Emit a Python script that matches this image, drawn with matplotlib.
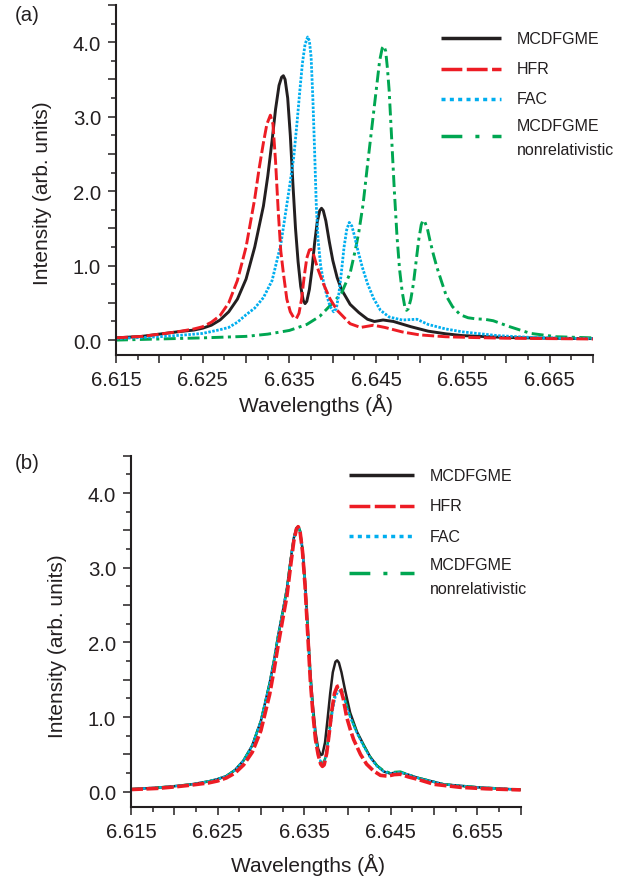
import numpy as np
import matplotlib
matplotlib.use("Agg")
import matplotlib.pyplot as plt
from matplotlib.lines import Line2D
from matplotlib.ticker import MultipleLocator, FuncFormatter

plt.rcParams['font.family'] = ['Liberation Sans', 'DejaVu Sans']
plt.rcParams['lines.scale_dashes'] = False

# ---- panel (a): spectra from each method (wavelength in A, intensity in arb. units)
a_mcdf_x = [6.615, 6.618, 6.620, 6.622, 6.624, 6.625, 6.626, 6.627, 6.628, 6.629,
            6.630, 6.631, 6.632, 6.6325, 6.6330, 6.6334, 6.6338, 6.6341, 6.6343, 6.6345,
            6.6348, 6.6351, 6.6354, 6.6357, 6.6360, 6.6363, 6.6366, 6.6368, 6.6370, 6.6373,
            6.6376, 6.6379, 6.6382, 6.6385, 6.6387, 6.6389, 6.6392, 6.6396, 6.6400, 6.6405,
            6.6410, 6.642, 6.643, 6.644, 6.6448, 6.6458, 6.647, 6.649, 6.651, 6.653,
            6.655, 6.660, 6.665, 6.670]
a_mcdf_y = [0.03, 0.05, 0.08, 0.11, 0.135, 0.16, 0.20, 0.27, 0.38, 0.55,
            0.82, 1.25, 1.80, 2.20, 2.68, 3.10, 3.42, 3.53, 3.55, 3.50,
            3.25, 2.75, 2.10, 1.50, 1.05, 0.72, 0.53, 0.49, 0.52, 0.68,
            0.95, 1.30, 1.58, 1.74, 1.77, 1.74, 1.60, 1.32, 1.07, 0.84,
            0.68, 0.48, 0.37, 0.28, 0.25, 0.27, 0.25, 0.18, 0.12, 0.085,
            0.06, 0.035, 0.025, 0.02]

a_hfr_x = [6.615, 6.618, 6.620, 6.622, 6.624, 6.625, 6.626, 6.627, 6.628, 6.629,
           6.630, 6.6310, 6.6315, 6.6320, 6.6324, 6.6328, 6.6331, 6.6334, 6.6337, 6.6340,
           6.6343, 6.6347, 6.6351, 6.6355, 6.6358, 6.6361, 6.6364, 6.6367, 6.6370, 6.6373,
           6.6375, 6.6378, 6.6382, 6.6389, 6.6397, 6.6405, 6.642, 6.6432, 6.6447, 6.646,
           6.648, 6.650, 6.653, 6.656, 6.660, 6.665, 6.670]
a_hfr_y = [0.03, 0.05, 0.08, 0.11, 0.15, 0.18, 0.24, 0.33, 0.50, 0.80,
           1.25, 1.90, 2.30, 2.65, 2.90, 3.02, 2.90, 2.40, 1.75, 1.20,
           0.90, 0.55, 0.38, 0.30, 0.29, 0.36, 0.55, 0.85, 1.10, 1.21,
           1.22, 1.14, 0.98, 0.76, 0.55, 0.40, 0.22, 0.17, 0.20, 0.17,
           0.11, 0.07, 0.045, 0.035, 0.025, 0.02, 0.015]

a_fac_x = [6.615, 6.620, 6.623, 6.625, 6.627, 6.628, 6.629, 6.630, 6.631, 6.632,
           6.633, 6.634, 6.6350, 6.6355, 6.6359, 6.6362, 6.6365, 6.6368, 6.6371, 6.6373,
           6.6375, 6.6377, 6.6379, 6.6381, 6.6383, 6.6386, 6.6389, 6.6393, 6.6397, 6.6401,
           6.6404, 6.6407, 6.6410, 6.6413, 6.6416, 6.6419, 6.6422, 6.6425, 6.6429, 6.6434,
           6.6440, 6.6447, 6.6455, 6.6465, 6.648, 6.6497, 6.651, 6.653, 6.655, 6.659,
           6.663, 6.667, 6.670]
a_fac_y = [0.02, 0.045, 0.07, 0.09, 0.14, 0.17, 0.24, 0.34, 0.43, 0.57,
           0.80, 1.28, 2.05, 2.46, 2.95, 3.35, 3.72, 3.97, 4.07, 4.02,
           3.80, 3.25, 2.55, 1.80, 1.35, 1.00, 0.80, 0.60, 0.45, 0.38,
           0.42, 0.62, 0.92, 1.25, 1.48, 1.58, 1.53, 1.40, 1.20, 0.98,
           0.76, 0.56, 0.40, 0.31, 0.27, 0.28, 0.21, 0.15, 0.11, 0.06,
           0.035, 0.025, 0.02]

a_nonrel_x = [6.615, 6.620, 6.625, 6.630, 6.6325, 6.635, 6.637, 6.6385, 6.640, 6.641,
              6.6420, 6.6426, 6.6430, 6.6435, 6.6440, 6.6444, 6.6448, 6.6451, 6.6454, 6.6457,
              6.6459, 6.6461, 6.6463, 6.6465, 6.6468, 6.6471, 6.6474, 6.6477, 6.6480, 6.6483,
              6.6485, 6.6487, 6.6490, 6.6493, 6.6496, 6.6499, 6.6502, 6.6504, 6.6506, 6.6509,
              6.6512, 6.6516, 6.6520, 6.6525, 6.6531, 6.6538, 6.6547, 6.6556, 6.6565, 6.6575,
              6.6585, 6.6604, 6.6628, 6.6658, 6.670]
a_nonrel_y = [0.0, 0.015, 0.03, 0.05, 0.08, 0.13, 0.21, 0.32, 0.50, 0.63,
              0.90, 1.21, 1.45, 1.83, 2.35, 2.75, 3.15, 3.45, 3.75, 3.92,
              3.95, 3.88, 3.65, 3.35, 2.68, 2.00, 1.40, 0.95, 0.65, 0.45,
              0.40, 0.42, 0.55, 0.76, 1.05, 1.34, 1.55, 1.61, 1.59, 1.50,
              1.34, 1.15, 0.98, 0.80, 0.59, 0.45, 0.34, 0.30, 0.285, 0.28,
              0.26, 0.18, 0.09, 0.045, 0.03]

# ---- panel (b)
b_mcdf_x = [6.615, 6.618, 6.620, 6.622, 6.624, 6.625, 6.626, 6.627, 6.628, 6.629,
            6.630, 6.6310, 6.6315, 6.6320, 6.6325, 6.6330, 6.6334, 6.6338, 6.6341, 6.6343,
            6.6345, 6.6348, 6.6351, 6.6354, 6.6357, 6.6360, 6.6363, 6.6366, 6.6369, 6.6371,
            6.6374, 6.6377, 6.6380, 6.6383, 6.6386, 6.6388, 6.6390, 6.6393, 6.6397, 6.6403,
            6.6411, 6.6419, 6.6426, 6.6434, 6.6442, 6.6449, 6.6455, 6.6461, 6.647, 6.648,
            6.6511, 6.655, 6.660]
b_mcdf_y = [0.035, 0.055, 0.075, 0.10, 0.14, 0.17, 0.21, 0.29, 0.42, 0.62,
            0.95, 1.45, 1.75, 2.10, 2.40, 2.72, 3.08, 3.40, 3.53, 3.55,
            3.50, 3.25, 2.80, 2.20, 1.60, 1.15, 0.80, 0.58, 0.49, 0.50,
            0.66, 0.98, 1.32, 1.60, 1.74, 1.76, 1.73, 1.60, 1.37, 1.06,
            0.80, 0.62, 0.47, 0.35, 0.27, 0.245, 0.255, 0.26, 0.23, 0.19,
            0.10, 0.06, 0.027]

b_hfr_x = [6.615, 6.618, 6.620, 6.622, 6.624, 6.625, 6.626, 6.627, 6.628, 6.629,
           6.630, 6.6310, 6.6315, 6.6320, 6.6325, 6.6330, 6.6334, 6.6338, 6.6341, 6.6343,
           6.6345, 6.6348, 6.6351, 6.6354, 6.6357, 6.6360, 6.6363, 6.6366, 6.6369, 6.6371,
           6.6373, 6.6376, 6.6379, 6.6382, 6.6385, 6.6388, 6.6390, 6.6392, 6.6395, 6.6399,
           6.6403, 6.6407, 6.6415, 6.6422, 6.643, 6.6438, 6.6446, 6.6454, 6.6461, 6.647,
           6.648, 6.650, 6.653, 6.656, 6.660]
b_hfr_y = [0.03, 0.045, 0.065, 0.09, 0.12, 0.145, 0.185, 0.25, 0.36, 0.53,
           0.82, 1.30, 1.62, 1.97, 2.30, 2.62, 3.00, 3.36, 3.52, 3.55,
           3.50, 3.22, 2.75, 2.12, 1.50, 1.05, 0.70, 0.50, 0.37, 0.34,
           0.36, 0.52, 0.80, 1.10, 1.32, 1.41, 1.42, 1.38, 1.25, 1.00,
           0.84, 0.70, 0.50, 0.37, 0.28, 0.22, 0.21, 0.23, 0.235, 0.20,
           0.17, 0.10, 0.06, 0.04, 0.025]

b_fac_x = [6.615, 6.618, 6.620, 6.622, 6.624, 6.625, 6.626, 6.627, 6.628, 6.629,
           6.630, 6.6310, 6.6315, 6.6320, 6.6325, 6.6330, 6.6334, 6.6338, 6.6341, 6.6343,
           6.6345, 6.6348, 6.6351, 6.6354, 6.6357, 6.6360, 6.6363, 6.6366, 6.6369, 6.6371,
           6.6374, 6.6377, 6.6380, 6.6383, 6.6386, 6.6389, 6.6391, 6.6393, 6.6396, 6.6400,
           6.6403, 6.6411, 6.6419, 6.6426, 6.6434, 6.6442, 6.6449, 6.6455, 6.6461, 6.647,
           6.648, 6.6511, 6.655, 6.660]
b_fac_y = [0.035, 0.055, 0.075, 0.10, 0.14, 0.17, 0.21, 0.29, 0.42, 0.62,
           0.95, 1.45, 1.75, 2.10, 2.40, 2.72, 3.08, 3.40, 3.53, 3.55,
           3.50, 3.24, 2.78, 2.17, 1.55, 1.08, 0.74, 0.53, 0.40, 0.37,
           0.42, 0.60, 0.86, 1.10, 1.27, 1.34, 1.35, 1.33, 1.25, 1.10,
           1.00, 0.78, 0.60, 0.46, 0.34, 0.27, 0.245, 0.255, 0.26, 0.23,
           0.19, 0.10, 0.06, 0.027]

b_nonrel_x = [6.615, 6.618, 6.620, 6.622, 6.624, 6.625, 6.626, 6.627, 6.628, 6.629,
              6.630, 6.6310, 6.6315, 6.6320, 6.6325, 6.6330, 6.6334, 6.6338, 6.6341, 6.6343,
              6.6345, 6.6348, 6.6351, 6.6354, 6.6357, 6.6360, 6.6363, 6.6366, 6.6369, 6.6371,
              6.6374, 6.6377, 6.6380, 6.6383, 6.6386, 6.6388, 6.6390, 6.6393, 6.6396, 6.6400,
              6.6403, 6.6411, 6.6419, 6.6426, 6.6434, 6.6442, 6.6449, 6.6455, 6.6461, 6.647,
              6.648, 6.6511, 6.655, 6.660]
b_nonrel_y = [0.035, 0.055, 0.075, 0.10, 0.14, 0.17, 0.21, 0.29, 0.42, 0.62,
              0.95, 1.45, 1.75, 2.10, 2.40, 2.72, 3.08, 3.40, 3.53, 3.55,
              3.50, 3.24, 2.78, 2.17, 1.55, 1.08, 0.74, 0.53, 0.40, 0.37,
              0.44, 0.64, 0.92, 1.16, 1.33, 1.39, 1.40, 1.37, 1.28, 1.12,
              1.01, 0.79, 0.61, 0.47, 0.35, 0.28, 0.255, 0.265, 0.27, 0.23,
              0.19, 0.10, 0.06, 0.027]

labels = ['MCDFGME', 'HFR', 'FAC', 'MCDFGME\nnonrelativistic']
colors = ['#231f20', '#ed1c24', '#00aeef', '#00a651']

# dash patterns (points) on the curves and, longer, in the key
curve_styles = [dict(linestyle='-'),
                dict(dashes=(8.6, 2.5)),
                dict(dashes=(1.8, 1.1)),
                dict(dashes=(8.6, 3.2, 2.2, 3.2))]
key_styles = [dict(linestyle='-'),
              dict(dashes=(15.0, 3.2)),
              dict(dashes=(2.9, 3.1)),
              dict(dashes=(15.0, 9.4, 2.9, 9.4))]

ink = '#231f20'
W, H = 629, 879


def style_axis(ax, xmax):
    ax.set_xlim(6.615, xmax)
    ax.set_ylim(-0.2, 4.5)
    for side in ('top', 'right'):
        ax.spines[side].set_visible(False)
    for side in ('left', 'bottom'):
        ax.spines[side].set_linewidth(1.5)
        ax.spines[side].set_color(ink)
    ax.xaxis.set_major_locator(MultipleLocator(0.005))
    ax.xaxis.set_minor_locator(MultipleLocator(0.0025))
    ax.yaxis.set_major_locator(MultipleLocator(0.5))
    ax.yaxis.set_minor_locator(MultipleLocator(0.25))

    def xfmt(v, pos):
        k = (v - 6.615) / 0.01
        return f'{v:.3f}' if abs(k - round(k)) < 1e-6 else ''

    def yfmt(v, pos):
        return f'{v:.1f}' if abs(v - round(v)) < 1e-6 and v > -0.01 else ''

    ax.xaxis.set_major_formatter(FuncFormatter(xfmt))
    ax.yaxis.set_major_formatter(FuncFormatter(yfmt))
    ax.tick_params(which='major', direction='out', length=5.8, width=1.1,
                   color=ink, labelsize=14.7, labelcolor=ink, pad=5)
    ax.tick_params(which='minor', direction='out', length=3.6, width=1.1, color=ink)
    ax.set_xlabel('Wavelengths (Å)', fontsize=15, color=ink)
    ax.set_ylabel('Intensity (arb. units)', fontsize=15, color=ink)


def draw_panel(ax, series, widths):
    # plot order: black first, then the coloured curves on top
    for i in (0, 3, 2, 1):
        x, y = series[i]
        ax.plot(x, y, color=colors[i], lw=widths[i], solid_capstyle='butt',
                dash_capstyle='butt', solid_joinstyle='round', **curve_styles[i])


def draw_key(fig, x0, x1, xt, handle_rows, text_rows):
    # key laid out in figure pixels (origin top-left)
    for c, s, yr in zip(colors, key_styles, handle_rows):
        fig.add_artist(Line2D([x0 / W, x1 / W], [1 - yr / H, 1 - yr / H],
                              color=c, lw=2.5, dash_capstyle='butt',
                              solid_capstyle='butt', **s))
    texts = ['MCDFGME', 'HFR', 'FAC', 'MCDFGME', 'nonrelativistic']
    for t, yb in zip(texts, text_rows):
        fig.text(xt / W, 1 - yb / H, t, fontsize=11.5, color=ink, va='baseline')


fig = plt.figure(figsize=(6.29, 8.79), dpi=100)
ax_a = fig.add_axes([0.1844, 0.595, 0.7583, 0.3982])
ax_b = fig.add_axes([0.2083, 0.0811, 0.6196, 0.3993])

draw_panel(ax_a, [(a_mcdf_x, a_mcdf_y), (a_hfr_x, a_hfr_y),
                  (a_fac_x, a_fac_y), (a_nonrel_x, a_nonrel_y)],
           [2.1, 2.1, 2.0, 2.1])
style_axis(ax_a, 6.670)
ax_a.yaxis.set_label_coords(-0.134, 0.466)
ax_a.xaxis.set_label_coords(0.420, -0.109)
draw_key(fig, 440.7, 500.7, 516.7, [39, 70, 100, 136.7],
         [43.7, 74.0, 104.5, 131.2, 155.4])

draw_panel(ax_b, [(b_mcdf_x, b_mcdf_y), (b_hfr_x, b_hfr_y),
                  (b_fac_x, b_fac_y), (b_nonrel_x, b_nonrel_y)],
           [1.8, 2.6, 1.6, 1.8])
style_axis(ax_b, 6.660)
ax_b.yaxis.set_label_coords(-0.165, 0.4615)
ax_b.xaxis.set_label_coords(0.454, -0.132)
draw_key(fig, 349.3, 414.0, 430.0, [476, 506.7, 537.3, 574.3],
         [481.2, 511.5, 541.7, 570.2, 594.5])

fig.text(0.024, 1 - 6 / H, '(a)', fontsize=14.7, color=ink, va='top')
fig.text(0.024, 1 - 454 / H, '(b)', fontsize=14.7, color=ink, va='top')

fig.savefig('out.png', dpi=100)
